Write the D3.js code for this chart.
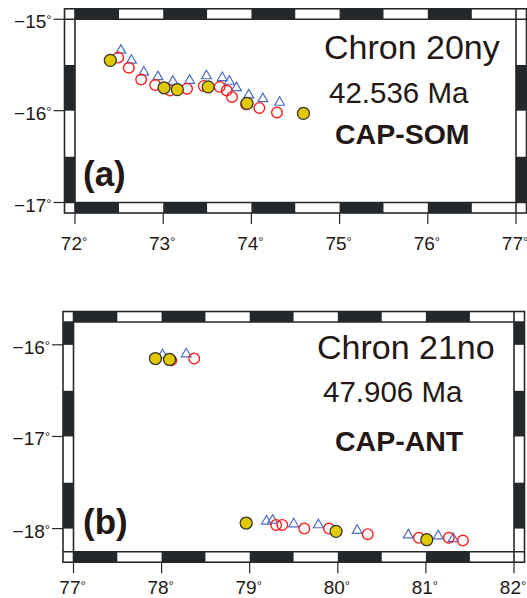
<!DOCTYPE html>
<html>
<head>
<meta charset="utf-8">
<script src="https://cdn.jsdelivr.net/npm/d3@7"></script>
<style>
  body { margin: 0; background: #fff; }
  text { font-family: "Liberation Sans", Arial, sans-serif; fill: #231815; }
</style>
</head>
<body>
<script>
// ---- data: panel (a) Chron 20ny, CAP-SOM ----
var lonTicksA = [72, 73, 74, 75, 76, 77];
var latTicksA = [-15, -16, -17];
var lonRangeA = [72, 77];
var latRangeA = [-15, -17];
var yellowA = [[72.40, -15.45], [73.01, -15.75], [73.16, -15.77], [73.51, -15.74],
               [73.95, -15.92], [74.59, -16.03]];
var redA = [[72.49, -15.42], [72.61, -15.53], [72.75, -15.66], [72.91, -15.72],
            [73.08, -15.78], [73.27, -15.76], [73.46, -15.73], [73.64, -15.74],
            [73.72, -15.78], [73.78, -15.85], [73.94, -15.93], [74.09, -15.97],
            [74.29, -16.02]];
var blueA = [[72.52, -15.34], [72.64, -15.45], [72.78, -15.58], [72.94, -15.63],
             [73.11, -15.68], [73.30, -15.67], [73.49, -15.62], [73.67, -15.64],
             [73.75, -15.68], [73.83, -15.75], [73.97, -15.83], [74.13, -15.87],
             [74.32, -15.91]];
var labelsA = ["Chron 20ny", "42.536 Ma", "CAP-SOM", "(a)"];

// ---- data: panel (b) Chron 21no, CAP-ANT ----
var lonTicksB = [77, 78, 79, 80, 81, 82];
var latTicksB = [-16, -17, -18];
var lonRangeB = [77, 82];
var latRangeB = [-15.75, -18.25];
var yellowB = [[77.93, -16.15], [78.09, -16.16], [78.96, -17.94], [79.98, -18.03],
               [81.01, -18.12]];
var redB = [[78.11, -16.17], [78.37, -16.15], [79.30, -17.96], [79.37, -17.96],
            [79.62, -18.00], [79.90, -18.00], [80.34, -18.06], [80.92, -18.10],
            [81.26, -18.10], [81.42, -18.13]];
var blueB = [[78.01, -16.11], [78.28, -16.10], [79.19, -17.92], [79.26, -17.91],
             [79.50, -17.95], [79.78, -17.96], [80.22, -18.02], [80.80, -18.07],
             [81.14, -18.08], [81.31, -18.11]];
var labelsB = ["Chron 21no", "47.906 Ma", "CAP-ANT", "(b)"];

var W = 527, H = 598;
var ink = "#25282b";
var band = 10.5;

var svg = d3.select("body").append("svg")
  .attr("width", W)
  .attr("height", H);

// mercator y
function merc(lat) { return Math.log(Math.tan(Math.PI / 4 + lat * Math.PI / 360)); }

function drawPanel(p) {
  var g = svg.append("g");
  var x = d3.scaleLinear().domain(p.lon).range([p.x0, p.x1]);
  var ym = d3.scaleLinear().domain([merc(p.lat[0]), merc(p.lat[1])]).range([p.y0, p.y1]);
  var y = function(lat) { return ym(merc(lat)); };

  // checkered frame bands, 0.5 degree pieces
  var step = 0.5;
  var lonSegs = [], latSegs = [];
  for (var a = Math.floor(p.lon[0] / step) * step; a < p.lon[1] - 1e-9; a += step) {
    lonSegs.push({ s: Math.max(a, p.lon[0]), e: Math.min(a + step, p.lon[1]),
                   black: Math.abs(Math.round(a / step)) % 2 === 0 });
  }
  var latLo = Math.min(p.lat[0], p.lat[1]), latHi = Math.max(p.lat[0], p.lat[1]);
  for (var b = Math.floor(latLo / step) * step; b < latHi - 1e-9; b += step) {
    latSegs.push({ s: Math.max(b, latLo), e: Math.min(b + step, latHi),
                   black: Math.abs(Math.round(b / step)) % 2 === 0 });
  }
  var fill = function(d) { return d.black ? ink : "#fff"; };

  [p.y0 - band, p.y1].forEach(function(yy) {
    g.selectAll(null).data(lonSegs).enter().append("rect")
      .attr("x", function(d) { return x(d.s); })
      .attr("width", function(d) { return x(d.e) - x(d.s); })
      .attr("y", yy).attr("height", band)
      .attr("fill", fill);
  });
  [p.x0 - band, p.x1].forEach(function(xx) {
    g.selectAll(null).data(latSegs).enter().append("rect")
      .attr("y", function(d) { return y(d.e); })
      .attr("height", function(d) { return y(d.s) - y(d.e); })
      .attr("x", xx).attr("width", band)
      .attr("fill", fill);
  });

  // frame lines
  var lines = g.append("g").attr("stroke", ink).attr("stroke-width", 1.6).attr("fill", "none");
  lines.append("rect").attr("x", p.x0 - band).attr("y", p.y0 - band)
    .attr("width", p.x1 - p.x0 + 2 * band).attr("height", p.y1 - p.y0 + 2 * band);
  [p.x0, p.x1].forEach(function(xx) {
    lines.append("line").attr("x1", xx).attr("x2", xx)
      .attr("y1", p.y0 - band).attr("y2", p.y1 + band);
  });
  [p.y0, p.y1].forEach(function(yy) {
    lines.append("line").attr("y1", yy).attr("y2", yy)
      .attr("x1", p.x0 - band).attr("x2", p.x1 + band);
  });

  // ticks
  var tl = 11;
  lines.selectAll(null).data(p.latTicks).enter().append("line")
    .attr("x1", p.x0 - band - tl).attr("x2", p.x0 - band)
    .attr("y1", function(d) { return y(d); }).attr("y2", function(d) { return y(d); })
    .attr("stroke-width", 1.2);
  lines.selectAll(null).data(p.lonTicks).enter().append("line")
    .attr("x1", function(d) { return x(d); }).attr("x2", function(d) { return x(d); })
    .attr("y1", p.y1 + band).attr("y2", p.y1 + band + tl)
    .attr("stroke-width", 1.2);

  var latLab = g.selectAll(null).data(p.latTicks).enter().append("text")
    .attr("x", p.x0 - band - 13)
    .attr("y", function(d) { return y(d) + 9; })
    .attr("text-anchor", "end")
    .attr("font-size", 19);
  latLab.append("tspan").text(function(d) { return "\u2212" + Math.abs(d); });
  latLab.append("tspan").attr("font-size", 13).attr("dy", -4).text("\u00b0");

  var lonLab = g.selectAll(null).data(p.lonTicks).enter().append("text")
    .attr("x", function(d) { return x(d) - 1; })
    .attr("y", p.labelBase)
    .attr("text-anchor", "middle")
    .attr("font-size", 19);
  lonLab.append("tspan").text(function(d) { return d; });
  lonLab.append("tspan").attr("font-size", 13).attr("dy", -4).text("\u00b0");

  // markers
  var tri = d3.symbol().type(d3.symbolTriangle).size(42);
  g.selectAll(null).data(p.blue).enter().append("path")
    .attr("d", tri)
    .attr("transform", function(d) { return "translate(" + x(d[0]) + "," + y(d[1]) + ")"; })
    .attr("fill", "none").attr("stroke", "#4d6cc4").attr("stroke-width", 1.2);
  g.selectAll(null).data(p.red).enter().append("circle")
    .attr("cx", function(d) { return x(d[0]); })
    .attr("cy", function(d) { return y(d[1]); })
    .attr("r", 5.3)
    .attr("fill", "none").attr("stroke", "#ff1f1f").attr("stroke-width", 1.4);
  g.selectAll(null).data(p.yellow).enter().append("circle")
    .attr("cx", function(d) { return x(d[0]); })
    .attr("cy", function(d) { return y(d[1]); })
    .attr("r", 6)
    .attr("fill", "#e2c800").attr("stroke", "#333").attr("stroke-width", 1.3);

  // panel texts
  var t = p.text;
  g.append("text").attr("x", t.cx).attr("y", t.cy).attr("font-size", 34).text(p.labels[0]);
  g.append("text").attr("x", t.ax).attr("y", t.ay).attr("font-size", 29.5).text(p.labels[1]);
  g.append("text").attr("x", t.px).attr("y", t.py).attr("font-size", 28.5)
    .attr("font-weight", "bold").text(p.labels[2]);
  g.append("text").attr("x", 83).attr("y", t.ly).attr("font-size", 35)
    .attr("font-weight", "bold").text(p.labels[3]);
}

drawPanel({
  lon: lonRangeA, lat: latRangeA, lonTicks: lonTicksA, latTicks: latTicksA,
  yellow: yellowA, red: redA, blue: blueA, labels: labelsA,
  x0: 75, x1: 516, y0: 19.3, y1: 202.5, labelBase: 250,
  text: { cx: 324, cy: 59, ax: 329, ay: 103, px: 335, py: 144, ly: 186 }
});
drawPanel({
  lon: lonRangeB, lat: latRangeB, lonTicks: lonTicksB, latTicks: latTicksB,
  yellow: yellowB, red: redB, blue: blueB, labels: labelsB,
  x0: 73.5, x1: 514, y0: 322, y1: 551.7, labelBase: 594,
  text: { cx: 317, cy: 359, ax: 323, ay: 402, px: 335, py: 451, ly: 534 }
});
</script>
</body>
</html>
